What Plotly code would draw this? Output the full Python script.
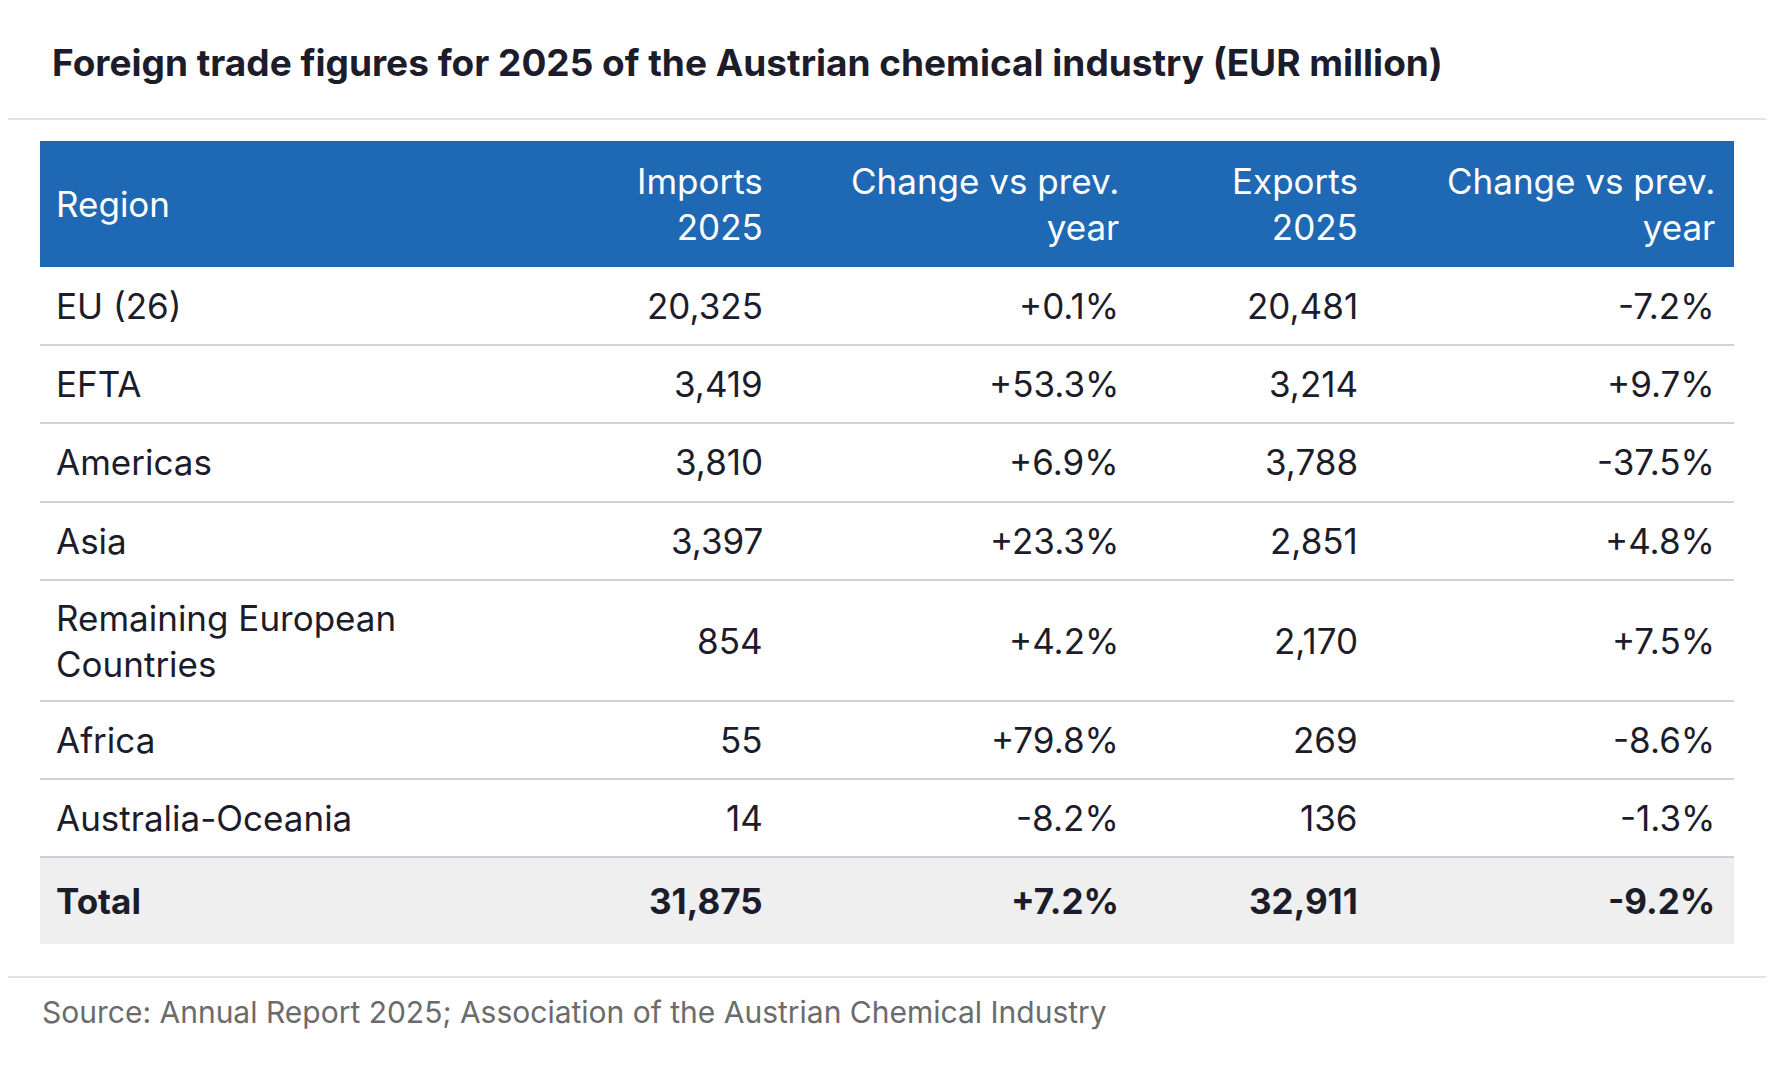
import plotly.graph_objects as go

regions = ["EU (26)", "EFTA", "Americas", "Asia", "Remaining European<br>Countries",
           "Africa", "Australia-Oceania", "Total"]
imports_2025 = ["20,325", "3,419", "3,810", "3,397", "854", "55", "14", "31,875"]
imports_change = ["+0.1%", "+53.3%", "+6.9%", "+23.3%", "+4.2%", "+79.8%", "-8.2%", "+7.2%"]
exports_2025 = ["20,481", "3,214", "3,788", "2,851", "2,170", "269", "136", "32,911"]
exports_change = ["-7.2%", "+9.7%", "-37.5%", "+4.8%", "+7.5%", "-8.6%", "-1.3%", "-9.2%"]
headers = ["Region", "Imports<br>2025", "Change vs prev.<br>year", "Exports<br>2025", "Change vs prev.<br>year"]

OFF = 8  # html body margin
W, H = 1774 - 2 * OFF, 1070 - 2 * OFF
FONT = "Inter, Roboto, sans-serif"
INK = "#1c1c2a"


def px(x):
    return (x - OFF) / W


def py(y):
    return 1 - (y - OFF) / H


fig = go.Figure()

# layout of the table (pixels in the 1774x1070 frame)
tbl_l, tbl_r = 40, 1734
col_x = [54, 765, 1121, 1360, 1717]
col_anchor = ["left", "right", "right", "right", "right"]
head_top, head_bot = 141, 267
row_h = [78, 78, 79, 78, 121, 78, 78, 87]

fig.add_shape(type="rect", xref="paper", yref="paper", x0=px(tbl_l), x1=px(tbl_r),
              y0=py(head_bot), y1=py(head_top), fillcolor="#1f68b4", line=dict(width=0), layer="below")
for j, h in enumerate(headers):
    fig.add_annotation(text=h, x=px(col_x[j]), y=py((head_top + head_bot) / 2), xref="paper", yref="paper",
                       xanchor=col_anchor[j], yanchor="middle", align=col_anchor[j], showarrow=False,
                       font=dict(family=FONT, size=35, color="white"))

columns = [regions, imports_2025, imports_change, exports_2025, exports_change]
y = head_bot
for i, h in enumerate(row_h):
    top, bot = y, y + h
    last = i == len(row_h) - 1
    if last:
        fig.add_shape(type="rect", xref="paper", yref="paper", x0=px(tbl_l), x1=px(tbl_r),
                      y0=py(bot), y1=py(top), fillcolor="#efefef", line=dict(width=0), layer="below")
    else:
        fig.add_shape(type="line", xref="paper", yref="paper", x0=px(tbl_l), x1=px(tbl_r),
                      y0=py(bot), y1=py(bot), line=dict(color="#9aa8bb", width=1))
    for j, col in enumerate(columns):
        txt = f"<b>{col[i]}</b>" if last else col[i]
        fig.add_annotation(text=txt, x=px(col_x[j]), y=py((top + bot) / 2), xref="paper", yref="paper",
                           xanchor=col_anchor[j], yanchor="middle", align=col_anchor[j], showarrow=False,
                           font=dict(family=FONT, size=35, color=INK))
    y = bot

# card frame and dividers
fig.add_shape(type="rect", xref="paper", yref="paper", x0=px(2), x1=px(1772), y0=py(1068), y1=py(2),
              line=dict(color="#dfe3e8", width=2))
for yy in (119, 977):
    fig.add_shape(type="line", xref="paper", yref="paper", x0=px(2), x1=px(1772),
                  y0=py(yy), y1=py(yy), line=dict(color="#dfe3e8", width=2))

fig.add_annotation(text="<b>Foreign trade figures for 2025 of the Austrian chemical industry (EUR million)</b>",
                   x=px(50), y=py(62), xref="paper", yref="paper", xanchor="left", yanchor="middle",
                   showarrow=False, font=dict(family=FONT, size=37, color=INK))
fig.add_annotation(text="Source: Annual Report 2025; Association of the Austrian Chemical Industry",
                   x=px(40), y=py(1012), xref="paper", yref="paper", xanchor="left", yanchor="middle",
                   showarrow=False, font=dict(family=FONT, size=30, color="#6b6b6b"))

fig.update_xaxes(visible=False)
fig.update_yaxes(visible=False)
fig.update_layout(width=W, height=H, margin=dict(l=0, r=0, t=0, b=0),
                  paper_bgcolor="white", plot_bgcolor="white")
fig.write_html("out.html")
